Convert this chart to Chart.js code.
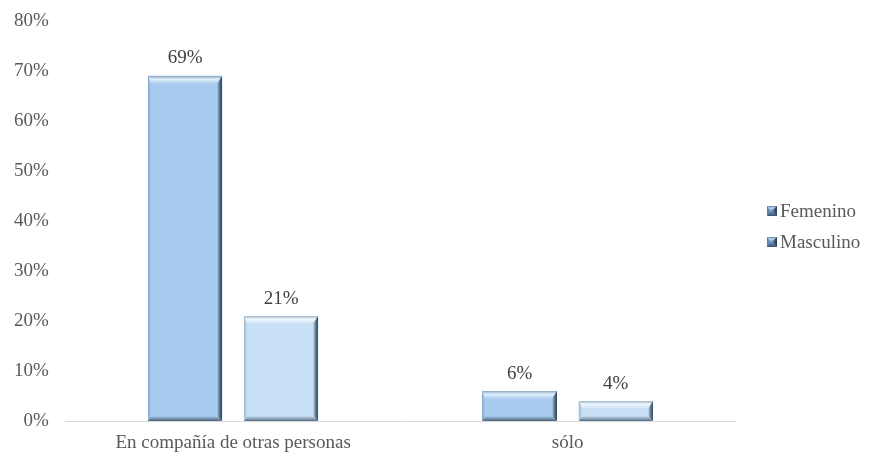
<!DOCTYPE html>
<html>
<head>
<meta charset="utf-8">
<script src="https://cdn.jsdelivr.net/npm/chart.js@4/dist/chart.umd.min.js"></script>
<style>
  html, body { margin: 0; padding: 0; background: #fff; }
  #chart { display: block; }
</style>
</head>
<body>
<canvas id="chart" width="872" height="456"></canvas>
<script>
// Data
const categories = ['En compañía de otras personas', 'sólo'];
const femenino = [69, 6];
const masculino = [21, 4];
const yTicks = [0, 10, 20, 30, 40, 50, 60, 70, 80];

const FONT = '"Liberation Serif", "Times New Roman", serif';
const TEXT = '#595959';

const palette = {
    Femenino: { base: '#a8cbef', light: '#e2f0fc', edge: '#86a6c6', dark: '#34475b', low: '#4d6379' },
    Masculino: { base: '#c8e0f6', light: '#f0f8fe', edge: '#9cb5cc', dark: '#3c5064', low: '#566c80' }
};
const markerColors = { base: '#6f95c0', light: '#c2d9f0', edge: '#5a7a9c', dark: '#2c3d50', low: '#3a5068' };

// Beveled look drawn on top of a plain rectangle
function drawBevel(ctx, x0, y0, x1, y1, c) {
    const w = x1 - x0, h = y1 - y0;
    const t = Math.min(8, h / 2), r = Math.min(5, w / 2), b = Math.min(5, h / 2), l = Math.min(3, w / 2);
    ctx.save();
    ctx.fillStyle = c.base;
    ctx.fillRect(x0, y0, w, h);

    // top highlight
    let g = ctx.createLinearGradient(0, y0, 0, y0 + t);
    g.addColorStop(0, c.edge);
    g.addColorStop(0.4, c.light);
    g.addColorStop(1, c.base);
    ctx.fillStyle = g;
    ctx.beginPath();
    ctx.moveTo(x0, y0); ctx.lineTo(x1, y0); ctx.lineTo(x1 - r, y0 + t); ctx.lineTo(x0 + l, y0 + t);
    ctx.closePath(); ctx.fill();

    // right shadow
    g = ctx.createLinearGradient(x1 - r, 0, x1, 0);
    g.addColorStop(0, c.base);
    g.addColorStop(0.6, c.low);
    g.addColorStop(1, c.dark);
    ctx.fillStyle = g;
    ctx.beginPath();
    ctx.moveTo(x1, y0); ctx.lineTo(x1, y1); ctx.lineTo(x1 - r, y1 - b); ctx.lineTo(x1 - r, y0 + t);
    ctx.closePath(); ctx.fill();

    // bottom shadow
    g = ctx.createLinearGradient(0, y1 - b, 0, y1);
    g.addColorStop(0, c.base);
    g.addColorStop(1, c.low);
    ctx.fillStyle = g;
    ctx.beginPath();
    ctx.moveTo(x0, y1); ctx.lineTo(x1, y1); ctx.lineTo(x1 - r, y1 - b); ctx.lineTo(x0 + l, y1 - b);
    ctx.closePath(); ctx.fill();

    // left edge
    g = ctx.createLinearGradient(x0, 0, x0 + l, 0);
    g.addColorStop(0, c.edge);
    g.addColorStop(1, c.base);
    ctx.fillStyle = g;
    ctx.beginPath();
    ctx.moveTo(x0, y0); ctx.lineTo(x0 + l, y0 + t); ctx.lineTo(x0 + l, y1 - b); ctx.lineTo(x0, y1);
    ctx.closePath(); ctx.fill();
    ctx.restore();
}

const bevelBars = {
    id: 'bevelBars',
    afterDatasetsDraw(chart) {
        const ctx = chart.ctx;
        chart.data.datasets.forEach((ds, i) => {
            chart.getDatasetMeta(i).data.forEach(bar => {
                const half = bar.width / 2;
                drawBevel(ctx, Math.round(bar.x - half), Math.round(bar.y), Math.round(bar.x + half), Math.round(bar.base), palette[ds.label]);
            });
        });
    }
};

const valueLabels = {
    id: 'valueLabels',
    afterDatasetsDraw(chart) {
        const ctx = chart.ctx;
        ctx.save();
        ctx.font = '19px ' + FONT;
        ctx.fillStyle = '#404040';
        ctx.textAlign = 'center';
        ctx.textBaseline = 'bottom';
        chart.data.datasets.forEach((ds, i) => {
            chart.getDatasetMeta(i).data.forEach((bar, j) => {
                ctx.fillText(ds.data[j] + '%', bar.x, bar.y - 8);
            });
        });
        ctx.restore();
    }
};

// legend on the right, one row per series
const sideLegend = {
    id: 'sideLegend',
    afterDraw(chart) {
        const ctx = chart.ctx;
        const x = chart.chartArea.right + 32;
        const y0 = 211;
        ctx.save();
        ctx.font = '19px ' + FONT;
        ctx.textBaseline = 'middle';
        chart.data.datasets.forEach((ds, i) => {
            const y = y0 + i * 31;
            drawBevel(ctx, x, y - 5, x + 10, y + 5, markerColors);
            ctx.fillStyle = TEXT;
            ctx.fillText(ds.label, x + 13, y + 1);
        });
        ctx.restore();
    }
};

new Chart(document.getElementById('chart'), {
    type: 'bar',
    data: {
        labels: categories,
        datasets: [
            { label: 'Femenino', data: femenino, backgroundColor: palette.Femenino.base },
            { label: 'Masculino', data: masculino, backgroundColor: palette.Masculino.base }
        ]
    },
    options: {
        responsive: false,
        animation: false,
        devicePixelRatio: 1,
        categoryPercentage: 0.574,
        barPercentage: 0.775,
        layout: { padding: { top: -6, left: -3, right: 137, bottom: -8 } },
        scales: {
            x: {
                grid: { display: false, drawTicks: false },
                border: { color: '#d9d9d9', width: 1 },
                ticks: { color: TEXT, font: { family: FONT, size: 19 }, padding: 10 }
            },
            y: {
                min: 0,
                max: 80,
                afterBuildTicks: axis => { axis.ticks = yTicks.map(v => ({ value: v })); },
                grid: { display: false, drawTicks: false },
                border: { display: false },
                ticks: { color: TEXT, font: { family: FONT, size: 19, lineHeight: 0.4 }, padding: 17, callback: v => v + '%' }
            }
        },
        plugins: {
            legend: { display: false },
            tooltip: { enabled: false }
        }
    },
    plugins: [bevelBars, valueLabels, sideLegend]
});
</script>
</body>
</html>
